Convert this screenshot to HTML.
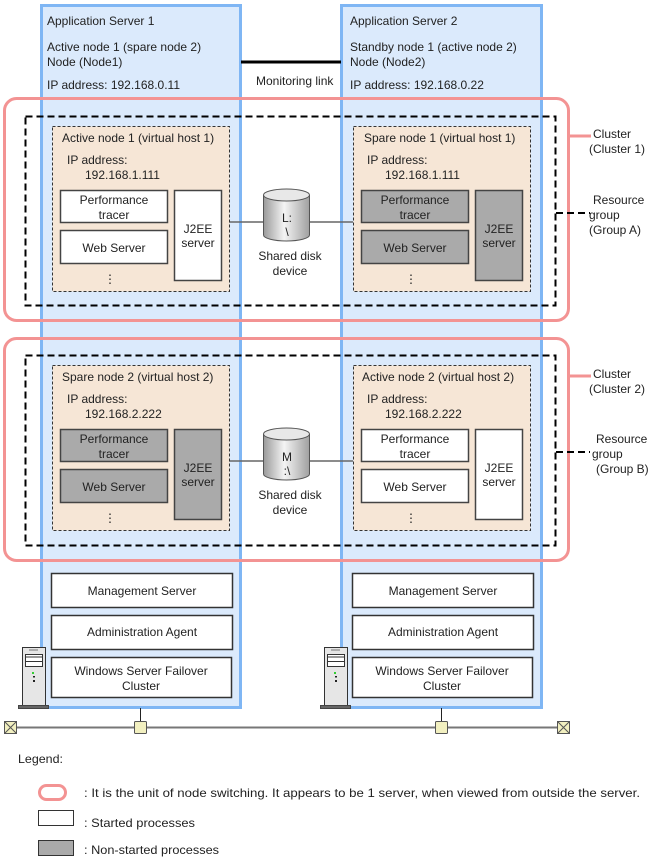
<!DOCTYPE html>
<html><head><meta charset="utf-8"><style>
html,body{margin:0;padding:0;background:#fff;}
svg{display:block;font-family:"Liberation Sans",sans-serif;font-size:12px;fill:#222;}
</style></head><body>
<svg width="657" height="861" viewBox="0 0 657 861" xmlns="http://www.w3.org/2000/svg">
<defs>
<linearGradient id="dg" x1="0" x2="1" y1="0" y2="0">
<stop offset="0" stop-color="#9a9a9a"/><stop offset="0.45" stop-color="#f4f4f4"/><stop offset="1" stop-color="#a0a0a0"/>
</linearGradient>
</defs>
<rect x="41.5" y="5.5" width="199" height="702" fill="#dbeafc" stroke="#7fb6f4" stroke-width="3"/>
<rect x="341.5" y="5.5" width="200" height="702" fill="#dbeafc" stroke="#7fb6f4" stroke-width="3"/>
<text x="47" y="25">Application Server 1</text>
<text x="47" y="51">Active node 1 (spare node 2)</text>
<text x="47" y="66">Node (Node1)</text>
<text x="47" y="89">IP address: 192.168.0.11</text>
<text x="350" y="25">Application Server 2</text>
<text x="350" y="51">Standby node 1 (active node 2)</text>
<text x="350" y="66">Node (Node2)</text>
<text x="350" y="89">IP address: 192.168.0.22</text>
<line x1="241" y1="62" x2="341" y2="62" stroke="#000" stroke-width="3"/>
<text x="256" y="85">Monitoring link</text>

<rect x="4.5" y="98.5" width="564" height="222" rx="12" fill="none" stroke="#f39393" stroke-width="3"/>
<rect x="4.5" y="338.5" width="564" height="222" rx="12" fill="none" stroke="#f39393" stroke-width="3"/>
<line x1="569" y1="136" x2="591" y2="136" stroke="#f39393" stroke-width="3"/>
<line x1="569" y1="376" x2="591" y2="376" stroke="#f39393" stroke-width="3"/>
<text x="593" y="138">Cluster</text><text x="589" y="153">(Cluster 1)</text>
<text x="593" y="378">Cluster</text><text x="589" y="393">(Cluster 2)</text>
<text x="593" y="204">Resource</text><text x="589" y="219">group</text><text x="589" y="234">(Group A)</text>
<text x="596" y="443">Resource</text><text x="592" y="458">group</text><text x="596" y="473">(Group B)</text>

<rect x="25.5" y="116.5" width="530" height="189" fill="none" stroke="#000" stroke-width="2" stroke-dasharray="7,4"/>
<rect x="25.5" y="355.5" width="530" height="190" fill="none" stroke="#000" stroke-width="2" stroke-dasharray="7,4"/>
<line x1="556" y1="213" x2="590" y2="213" stroke="#000" stroke-width="2" stroke-dasharray="7,4"/>
<line x1="556" y1="452" x2="590" y2="452" stroke="#000" stroke-width="2" stroke-dasharray="7,4"/>

<line x1="229" y1="222" x2="353" y2="222" stroke="#666" stroke-width="1.5"/>
<line x1="229" y1="461" x2="353" y2="461" stroke="#666" stroke-width="1.5"/>

<g stroke="#333" stroke-width="1" stroke-dasharray="3,2" fill="#f6e6d6">
<rect x="52.5" y="126.5" width="177" height="165"/>
<rect x="353.5" y="126.5" width="177" height="165"/>
<rect x="52.5" y="365.5" width="177" height="165"/>
<rect x="353.5" y="365.5" width="177" height="165"/>
</g>
<text x="62" y="142">Active node 1 (virtual host 1)</text>
<text x="67" y="164">IP address:</text><text x="85" y="179">192.168.1.111</text>
<text x="364" y="142">Spare node 1 (virtual host 1)</text>
<text x="367" y="164">IP address:</text><text x="385" y="179">192.168.1.111</text>
<text x="62" y="381">Spare node 2 (virtual host 2)</text>
<text x="67" y="403">IP address:</text><text x="85" y="418">192.168.2.222</text>
<text x="362" y="381">Active node 2 (virtual host 2)</text>
<text x="367" y="403">IP address:</text><text x="385" y="418">192.168.2.222</text>

<g stroke="#444" stroke-width="1.5">
<rect x="60.5" y="190.5" width="107" height="32" fill="#fff"/>
<rect x="60.5" y="230.5" width="107" height="33" fill="#fff"/>
<rect x="174.5" y="190.5" width="47" height="90" fill="#fff"/>
<rect x="361.5" y="190.5" width="107" height="32" fill="#aaa"/>
<rect x="361.5" y="230.5" width="107" height="33" fill="#aaa"/>
<rect x="475.5" y="190.5" width="47" height="90" fill="#aaa"/>
<rect x="60.5" y="429.5" width="107" height="32" fill="#aaa"/>
<rect x="60.5" y="469.5" width="107" height="33" fill="#aaa"/>
<rect x="174.5" y="429.5" width="47" height="90" fill="#aaa"/>
<rect x="361.5" y="429.5" width="107" height="32" fill="#fff"/>
<rect x="361.5" y="469.5" width="107" height="33" fill="#fff"/>
<rect x="475.5" y="429.5" width="47" height="90" fill="#fff"/>
</g>
<g text-anchor="middle">
<text x="114" y="204">Performance</text><text x="114" y="219">tracer</text>
<text x="114" y="252">Web Server</text><text x="198" y="233">J2EE</text><text x="198" y="247">server</text>
<text x="110" y="283">⋮</text>
<text x="415" y="204">Performance</text><text x="415" y="219">tracer</text>
<text x="415" y="252">Web Server</text><text x="499" y="233">J2EE</text><text x="499" y="247">server</text>
<text x="411" y="283">⋮</text>
<text x="114" y="443">Performance</text><text x="114" y="458">tracer</text>
<text x="114" y="491">Web Server</text><text x="198" y="472">J2EE</text><text x="198" y="486">server</text>
<text x="110" y="522">⋮</text>
<text x="415" y="443">Performance</text><text x="415" y="458">tracer</text>
<text x="415" y="491">Web Server</text><text x="499" y="472">J2EE</text><text x="499" y="486">server</text>
<text x="411" y="522">⋮</text>
</g>

<g stroke="#555" stroke-width="1">
<path d="M263.5,195 L263.5,235 A23,6 0 0 0 309.5,235 L309.5,195" fill="url(#dg)"/>
<ellipse cx="286.5" cy="195" rx="23" ry="6" fill="#e8e8e8"/>
<path d="M263.5,434 L263.5,474 A23,6 0 0 0 309.5,474 L309.5,434" fill="url(#dg)"/>
<ellipse cx="286.5" cy="434" rx="23" ry="6" fill="#e8e8e8"/>
</g>
<g text-anchor="middle">
<text x="287" y="222">L:</text><text x="287" y="236">\</text>
<text x="290" y="260">Shared disk</text><text x="290" y="275">device</text>
<text x="287" y="461">M</text><text x="287" y="475">:\</text>
<text x="290" y="499">Shared disk</text><text x="290" y="514">device</text>
</g>

<g stroke="#333" stroke-width="1.5" fill="#fff">
<rect x="51.5" y="573.5" width="181" height="34"/>
<rect x="51.5" y="615.5" width="181" height="34"/>
<rect x="51.5" y="657.5" width="180" height="40"/>
<rect x="352.5" y="573.5" width="181" height="34"/>
<rect x="352.5" y="615.5" width="181" height="34"/>
<rect x="352.5" y="657.5" width="180" height="40"/>
</g>
<g text-anchor="middle">
<text x="142" y="595">Management Server</text>
<text x="142" y="636">Administration Agent</text>
<text x="141" y="675">Windows Server Failover</text><text x="141" y="690">Cluster</text>
<text x="443" y="595">Management Server</text>
<text x="443" y="636">Administration Agent</text>
<text x="442" y="675">Windows Server Failover</text><text x="442" y="690">Cluster</text>
</g>

<g>
<rect x="22.5" y="647.5" width="23" height="58" fill="#e6e6e6" stroke="#333"/>
<line x1="29" y1="650" x2="38" y2="650" stroke="#777"/>
<rect x="25.5" y="654.5" width="17" height="7" fill="#fff" stroke="#333"/>
<line x1="26" y1="657" x2="42" y2="657" stroke="#333"/>
<rect x="25.5" y="661.5" width="17" height="5" fill="#fff" stroke="#333"/>
<rect x="32" y="672" width="2" height="2" fill="#3c3"/>
<rect x="33" y="676" width="2" height="1.5" fill="#222"/>
<rect x="33" y="680" width="2" height="2" fill="#222"/>
<rect x="18.5" y="705.5" width="30" height="3" fill="#666" stroke="#444"/>
</g>
<g transform="translate(302,0)">
<rect x="22.5" y="647.5" width="23" height="58" fill="#e6e6e6" stroke="#333"/>
<line x1="29" y1="650" x2="38" y2="650" stroke="#777"/>
<rect x="25.5" y="654.5" width="17" height="7" fill="#fff" stroke="#333"/>
<line x1="26" y1="657" x2="42" y2="657" stroke="#333"/>
<rect x="25.5" y="661.5" width="17" height="5" fill="#fff" stroke="#333"/>
<rect x="32" y="672" width="2" height="2" fill="#3c3"/>
<rect x="33" y="676" width="2" height="1.5" fill="#222"/>
<rect x="33" y="680" width="2" height="2" fill="#222"/>
<rect x="18.5" y="705.5" width="30" height="3" fill="#666" stroke="#444"/>
</g>

<line x1="10" y1="727.5" x2="564" y2="727.5" stroke="#777" stroke-width="2"/>
<line x1="140.5" y1="708" x2="140.5" y2="721" stroke="#222"/>
<line x1="441.5" y1="708" x2="441.5" y2="721" stroke="#222"/>
<rect x="134.5" y="721.5" width="12" height="12" rx="1" fill="#f2f0c0" stroke="#555"/>
<rect x="435.5" y="721.5" width="12" height="12" rx="1" fill="#f2f0c0" stroke="#555"/>
<g stroke="#555" fill="#f2f0c0">
<rect x="4.5" y="721.5" width="12" height="12"/>
<path d="M4.5,721.5 L16.5,733.5 M16.5,721.5 L4.5,733.5" fill="none"/>
<rect x="557.5" y="721.5" width="12" height="12"/>
<path d="M557.5,721.5 L569.5,733.5 M569.5,721.5 L557.5,733.5" fill="none"/>
</g>

<g font-size="12">
<text x="18" y="763" textLength="45" lengthAdjust="spacingAndGlyphs">Legend:</text>
<rect x="39.5" y="785.5" width="26" height="14" rx="7" fill="none" stroke="#f39393" stroke-width="3"/>
<text x="84" y="797" textLength="556" lengthAdjust="spacingAndGlyphs">: It is the unit of node switching. It appears to be 1 server, when viewed from outside the server.</text>
<rect x="38.5" y="810.5" width="35" height="15" fill="#fff" stroke="#333"/>
<text x="84" y="827" textLength="111" lengthAdjust="spacingAndGlyphs">: Started processes</text>
<rect x="38.5" y="840.5" width="35" height="15" fill="#aaa" stroke="#333"/>
<text x="84" y="854" textLength="135" lengthAdjust="spacingAndGlyphs">: Non-started processes</text>
</g>
</svg>
</body></html>
